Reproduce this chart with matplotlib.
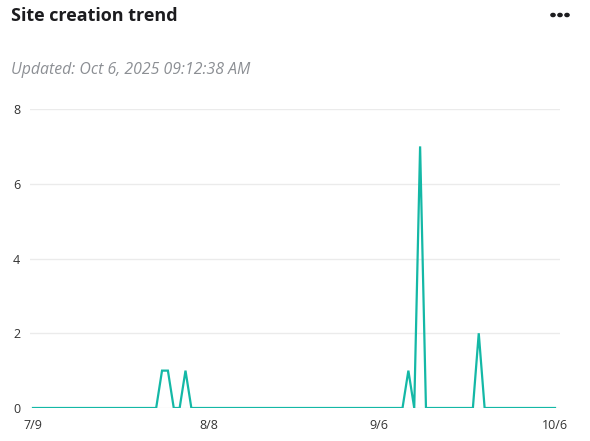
import numpy as np
import pandas as pd
import matplotlib
matplotlib.use("Agg")
import matplotlib.pyplot as plt

plt.rcParams['font.family'] = ['Open Sans', 'DejaVu Sans']

# daily site creation counts, 7/9/2025 .. 10/6/2025
dates = pd.date_range("2025-07-09", "2025-10-06", freq="D")
spike_days = ["2025-07-31", "2025-08-01", "2025-08-04", "2025-09-11", "2025-09-13", "2025-09-23"]
spike_counts = [1, 1, 1, 1, 7, 2]
tick_days = ["2025-07-09", "2025-08-08", "2025-09-06", "2025-10-06"]
y_ticks = [0, 2, 4, 6, 8]

counts = pd.Series(0, index=dates)
counts.loc[pd.to_datetime(spike_days)] = spike_counts

x = np.arange(len(dates))
tick_pos = [dates.get_loc(pd.Timestamp(d)) for d in tick_days]
tick_labels = [f"{pd.Timestamp(d).month}/{pd.Timestamp(d).day}" for d in tick_days]

fig = plt.figure(figsize=(5.9, 4.41), dpi=100)
ax = fig.add_axes([30/590, 1-408/441, 530/590, 299/441])

ax.plot(x, counts.values, color="#14b8a6", lw=1.6, zorder=3, solid_joinstyle="miter")

ax.set_xlim(-3/5.865, 89 + 5/5.865)
ax.set_ylim(0, 8)
ax.set_yticks(y_ticks)
ax.set_xticks(tick_pos)
ax.set_xticklabels(tick_labels)
ax.grid(axis="y", color="#ebebeb", lw=1)
ax.set_axisbelow(True)
for s in ax.spines.values():
    s.set_visible(False)
ax.tick_params(length=0, labelsize=9, colors="#333333")
ax.tick_params(axis="y", pad=7)
ax.tick_params(axis="x", pad=8)

fig.text(11/590, 1-16/441, "Site creation trend", fontsize=13, fontweight="bold",
         color="#1c1c1f", va="center", ha="left")
fig.text(11/590, 1-70/441, "Updated: Oct 6, 2025 09:12:38 AM", fontsize=11.4,
         style="italic", color="#8c8f94", va="center", ha="left")
# menu dots
for dx in [553, 560, 567]:
    fig.add_artist(plt.Circle((dx/590, 1-15/441), 2.1/590, transform=fig.transFigure,
                              color="#1c1c1f"))

fig.savefig("out.png", dpi=100)
